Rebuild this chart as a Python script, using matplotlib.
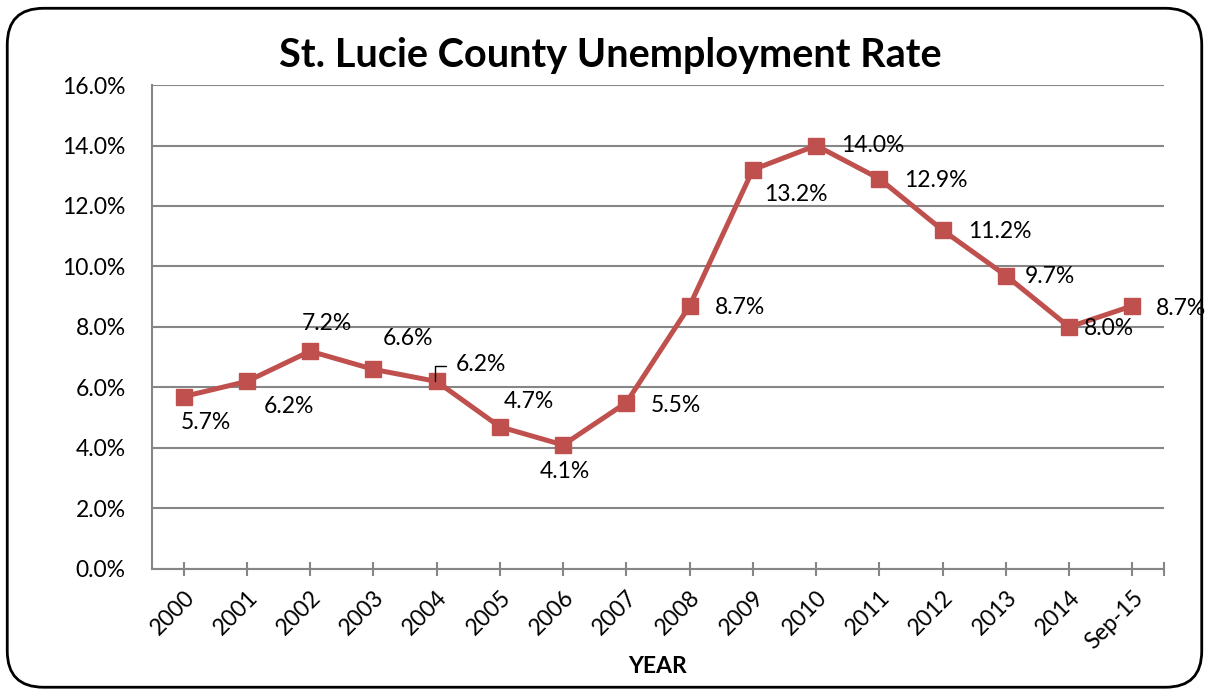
import numpy as np
import matplotlib.pyplot as plt
from matplotlib.patches import FancyBboxPatch

plt.rcParams['font.family'] = ['Lato', 'DejaVu Sans']

# dados
anos = ['2000', '2001', '2002', '2003', '2004', '2005', '2006', '2007',
        '2008', '2009', '2010', '2011', '2012', '2013', '2014', 'Sep-15']
taxa = [5.7, 6.2, 7.2, 6.6, 6.2, 4.7, 4.1, 5.5,
        8.7, 13.2, 14.0, 12.9, 11.2, 9.7, 8.0, 8.7]
yticks = [0, 2, 4, 6, 8, 10, 12, 14, 16]

# deslocamento dos rótulos (pontos)
offsets = [(16, -19), (30, -18), (12, 20), (25, 22), (32, 12), (21, 18),
           (1, -19), (36, -2), (36, -1), (31, -18), (41, 0), (41, -1),
           (41, -1), (32, -1), (29, -1), (35, -2)]

cor = '#C0504D'
cinza = '#868686'
fs = 16.5

fig = plt.figure(figsize=(12.09, 6.9), dpi=100)
ax = fig.add_axes([0.1257, 0.1754, 0.8371, 0.7014])

x = np.arange(len(anos))
ax.plot(x, taxa, color=cor, lw=3.6, marker='s', markersize=11.5, zorder=3)

for i, (v, off) in enumerate(zip(taxa, offsets)):
    ax.annotate(f'{v:.1f}%', (i, v), xytext=off, textcoords='offset points',
                ha='center', va='center', fontsize=fs, color='black')

# linha guia do rótulo de 2004
ax.annotate('', (3.98, 6.22), xytext=(8, 11), textcoords='offset points',
            arrowprops=dict(arrowstyle='-', color='black', lw=1,
                            shrinkA=0, shrinkB=0,
                            connectionstyle='angle,angleA=180,angleB=90,rad=0'))

ax.set_xlim(-0.5, 15.5)
ax.set_ylim(0, 16)
ax.set_yticks(yticks)
ax.set_yticklabels([f'{t:.1f}%' for t in yticks], fontsize=fs)
ax.set_xticks(x)
ax.set_xticklabels(anos, rotation=45, ha='right', rotation_mode='anchor', fontsize=fs)
ax.set_xticks([15.5], minor=True)
ax.tick_params(axis='x', which='both', direction='inout', length=10, width=1.5,
               color=cinza, pad=8)
ax.tick_params(axis='y', length=0, pad=19)

ax.yaxis.grid(True, color=cinza, lw=1.5)
ax.set_axisbelow(True)
for s in ['top', 'right']:
    ax.spines[s].set_visible(False)
for s in ['left', 'bottom']:
    ax.spines[s].set_color(cinza)
    ax.spines[s].set_linewidth(1.5)

ax.set_xlabel('YEAR', fontsize=fs, fontweight='bold', labelpad=2)
fig.text(0.505, 0.92, 'St. Lucie County Unemployment Rate', ha='center', va='center',
         fontsize=28.5, fontweight='bold')

borda = FancyBboxPatch((0.006, 0.004), 0.988, 0.984, boxstyle='round,pad=0,rounding_size=0.03',
                       transform=fig.transFigure, fill=False, ec='black', lw=2,
                       mutation_aspect=1.75)
fig.patches.append(borda)

fig.savefig('out.png', dpi=100)
